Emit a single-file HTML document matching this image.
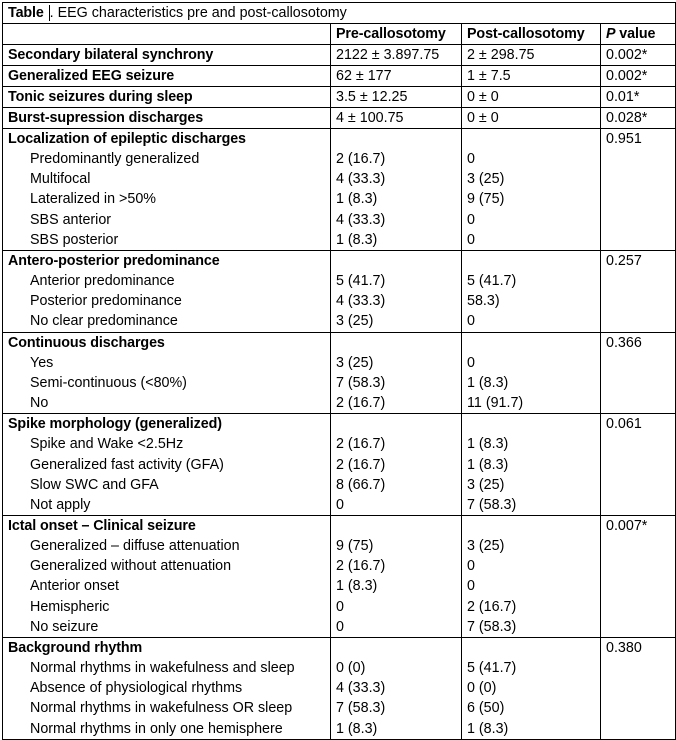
<!DOCTYPE html>
<html><head><meta charset="utf-8"><style>
html,body{margin:0;padding:0;background:#fff;}
body{width:676px;height:740px;overflow:hidden;font-family:"Liberation Sans",sans-serif;color:#000;}
table{position:absolute;left:2px;top:2px;border-collapse:collapse;table-layout:fixed;width:673px;}
td{border:1px solid #000;padding:0 0 0 5px;vertical-align:top;font-size:14.3px;line-height:20.15px;white-space:nowrap;overflow:hidden;}
.b{font-weight:bold;font-size:14.3px;letter-spacing:-0.1px;}
.i{padding-left:22px;}
tr.s td{height:20px;line-height:20px;}
</style></head><body>
<table>
<colgroup><col style="width:328px"><col style="width:131px"><col style="width:139px"><col style="width:75px"></colgroup>
<tr><td colspan="4" style="height:20px;line-height:20px;"><span class="b" style="border-right:1px solid #000;padding-right:1px">Table </span>. EEG characteristics pre and post-callosotomy</td></tr>
<tr class="s"><td></td><td class="b">Pre-callosotomy</td><td class="b">Post-callosotomy</td><td class="b"><i>P</i> value</td></tr>
<tr class="s"><td class="b">Secondary bilateral synchrony</td><td>2122 ± 3.897.75</td><td>2 ± 298.75</td><td>0.002*</td></tr>
<tr class="s"><td class="b">Generalized EEG seizure</td><td>62 ± 177</td><td>1 ± 7.5</td><td>0.002*</td></tr>
<tr class="s"><td class="b">Tonic seizures during sleep</td><td>3.5 ± 12.25</td><td>0 ± 0</td><td>0.01*</td></tr>
<tr class="s"><td class="b">Burst-supression discharges</td><td>4 ± 100.75</td><td>0 ± 0</td><td>0.028*</td></tr>
<tr><td><div class="b">Localization of epileptic discharges</div><div class="i">Predominantly generalized<br>Multifocal<br>Lateralized in &gt;50%<br>SBS anterior<br>SBS posterior</div></td><td><br>2 (16.7)<br>4 (33.3)<br>1 (8.3)<br>4 (33.3)<br>1 (8.3)</td><td><br>0<br>3 (25)<br>9 (75)<br>0<br>0</td><td>0.951</td></tr>
<tr><td><div class="b">Antero-posterior predominance</div><div class="i">Anterior predominance<br>Posterior predominance<br>No clear predominance</div></td><td><br>5 (41.7)<br>4 (33.3)<br>3 (25)</td><td><br>5 (41.7)<br>58.3)<br>0</td><td>0.257</td></tr>
<tr><td><div class="b">Continuous discharges</div><div class="i">Yes<br>Semi-continuous (&lt;80%)<br>No</div></td><td><br>3 (25)<br>7 (58.3)<br>2 (16.7)</td><td><br>0<br>1 (8.3)<br>11 (91.7)</td><td>0.366</td></tr>
<tr><td><div class="b">Spike morphology (generalized)</div><div class="i">Spike and Wake &lt;2.5Hz<br>Generalized fast activity (GFA)<br>Slow SWC and GFA<br>Not apply</div></td><td><br>2 (16.7)<br>2 (16.7)<br>8 (66.7)<br>0</td><td><br>1 (8.3)<br>1 (8.3)<br>3 (25)<br>7 (58.3)</td><td>0.061</td></tr>
<tr><td><div class="b">Ictal onset – Clinical seizure</div><div class="i">Generalized – diffuse attenuation<br>Generalized without attenuation<br>Anterior onset<br>Hemispheric<br>No seizure</div></td><td><br>9 (75)<br>2 (16.7)<br>1 (8.3)<br>0<br>0</td><td><br>3 (25)<br>0<br>0<br>2 (16.7)<br>7 (58.3)</td><td>0.007*</td></tr>
<tr><td><div class="b">Background rhythm</div><div class="i">Normal rhythms in wakefulness and sleep<br>Absence of physiological rhythms<br>Normal rhythms in wakefulness OR sleep<br>Normal rhythms in only one hemisphere</div></td><td><br>0 (0)<br>4 (33.3)<br>7 (58.3)<br>1 (8.3)</td><td><br>5 (41.7)<br>0 (0)<br>6 (50)<br>1 (8.3)</td><td>0.380</td></tr>
</table>
</body></html>
